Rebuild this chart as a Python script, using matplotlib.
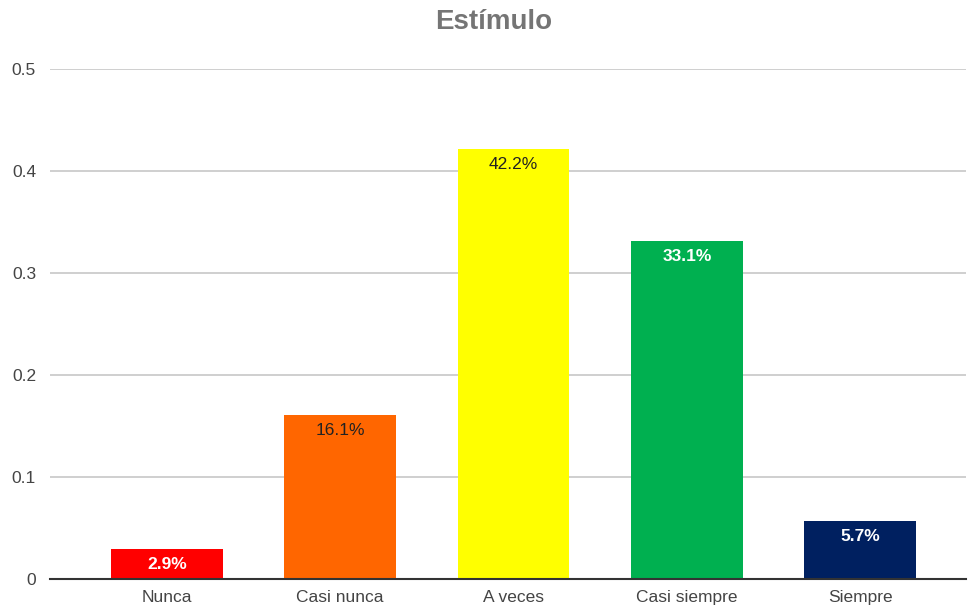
import numpy as np
import matplotlib.pyplot as plt

plt.rcParams['font.family'] = ['Liberation Sans', 'DejaVu Sans']

categories = ['Nunca', 'Casi nunca', 'A veces', 'Casi siempre', 'Siempre']
values = [0.029, 0.161, 0.422, 0.331, 0.057]
colors = ['#FF0000', '#FF6600', '#FFFF00', '#00B050', '#002060']
label_colors = ['white', '#222222', '#222222', 'white', 'white']
label_weights = ['bold', 'normal', 'normal', 'bold', 'bold']

fig = plt.figure(figsize=(9.69, 6.1), dpi=100)
ax = fig.add_axes([50/969, 31/610, 916/969, 510/610])

x = np.arange(len(categories))
bars = ax.bar(x, values, width=0.645, color=colors, zorder=3)

# percentage labels just inside the top of each bar
for b, v, c, w in zip(bars, values, label_colors, label_weights):
    ax.annotate(f'{v*100:.1f}%', (b.get_x() + b.get_width()/2, v),
                xytext=(0, -8), textcoords='offset pixels',
                ha='center', va='top', fontsize=12.5, color=c, fontweight=w,
                zorder=4)

ax.set_xlim(-0.674, 4.61)
ax.set_ylim(0, 0.5)
ax.set_yticks([0, 0.1, 0.2, 0.3, 0.4, 0.5])
ax.set_yticklabels(['0', '0.1', '0.2', '0.3', '0.4', '0.5'])
ax.set_xticks(x)
ax.set_xticklabels(categories)
ax.tick_params(axis='both', length=0, labelsize=12.5, labelcolor='#444444')
ax.tick_params(axis='y', pad=10)
ax.tick_params(axis='x', pad=8)

ax.grid(axis='y', color='#cccccc', linewidth=1.3, zorder=0)
for s in ['top', 'right', 'left']:
    ax.spines[s].set_visible(False)
ax.spines['bottom'].set_color('#333333')
ax.spines['bottom'].set_linewidth(1.5)
ax.spines['bottom'].set_zorder(5)

fig.text(494/969, 1 - 22/610, 'Estímulo', ha='center', va='center',
         fontsize=20, fontweight='bold', color='#757575')

fig.savefig('out.png', dpi=100)
